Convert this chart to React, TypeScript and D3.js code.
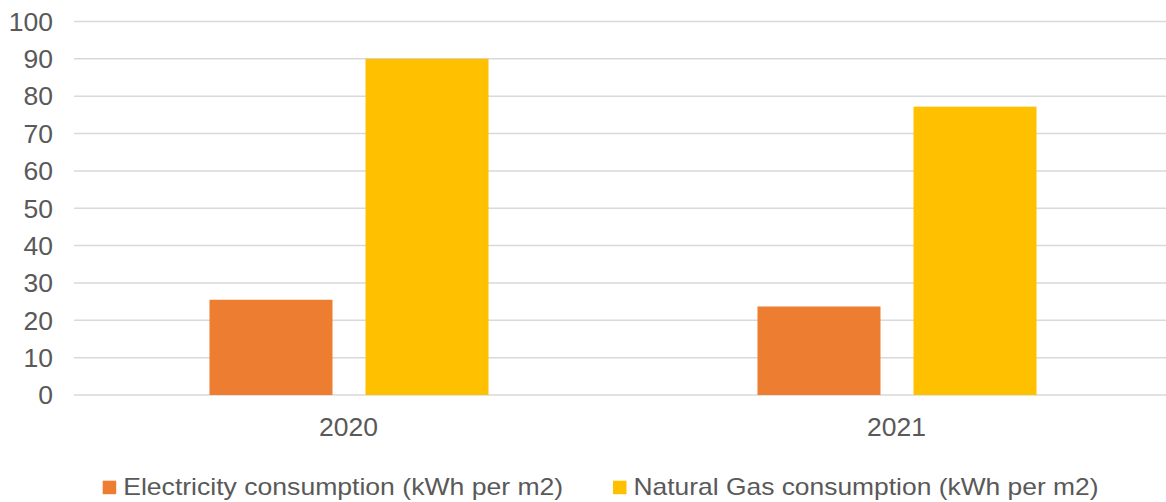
import * as d3 from 'd3';
import { useEffect, useRef } from 'react';

// Chart data
const years = ['2020', '2021'];
const electricity = [25.5, 23.7];
const naturalGas = [90, 77.2];
const yTicks = [0, 10, 20, 30, 40, 50, 60, 70, 80, 90, 100];
const seriesNames = [
  'Electricity consumption (kWh per m2)',
  'Natural Gas consumption (kWh per m2)',
];
const seriesColors = ['#ED7D31', '#FFC000'];

const App = () => {
  const svgRef = useRef<SVGSVGElement | null>(null);

  useEffect(() => {
    if (!svgRef.current) return;

    const width = 1166;
    const height = 502;
    const textColor = '#595959';
    const font = '"Liberation Sans", Arial, sans-serif';

    d3.select(svgRef.current).selectAll('*').remove();

    const svg = d3.select(svgRef.current)
      .attr('width', width)
      .attr('height', height)
      .style('display', 'block')
      .style('background', '#fff');

    // Scales
    const y = d3.scaleLinear().domain([0, 100]).range([395, 21.5]);

    const x0 = d3.scaleBand()
      .domain(years)
      .range([75, 1171])
      .padding(0);

    const x1 = d3.scaleBand()
      .domain(seriesNames)
      .range([0, x0.bandwidth()])
      .paddingInner(0.2115)
      .paddingOuter(0.862);

    // Gridlines
    svg.append('g')
      .selectAll('line')
      .data(yTicks)
      .join('line')
      .attr('x1', 74)
      .attr('x2', 1171)
      .attr('y1', d => y(d))
      .attr('y2', d => y(d))
      .attr('stroke', '#d9d9d9')
      .attr('stroke-width', 1.5);

    // Y tick labels
    svg.append('g')
      .selectAll('text')
      .data(yTicks)
      .join('text')
      .attr('x', 53)
      .attr('y', d => y(d))
      .attr('dy', '0.35em')
      .attr('text-anchor', 'end')
      .style('font-family', font)
      .style('font-size', '26.5px')
      .style('fill', textColor)
      .text(d => d);

    // Bars
    const rows = years.map((yr, i) => ({
      year: yr,
      values: [electricity[i], naturalGas[i]],
    }));

    const groups = svg.append('g')
      .selectAll('g')
      .data(rows)
      .join('g')
      .attr('transform', d => `translate(${x0(d.year)},0)`);

    groups.selectAll('rect')
      .data(d => d.values.map((v, j) => ({ name: seriesNames[j], value: v, color: seriesColors[j] })))
      .join('rect')
      .attr('x', d => x1(d.name) || 0)
      .attr('width', x1.bandwidth())
      .attr('y', d => y(d.value))
      .attr('height', d => y(0) - y(d.value))
      .attr('fill', d => d.color);

    // X category labels
    svg.append('g')
      .selectAll('text')
      .data(years)
      .join('text')
      .attr('x', d => (x0(d) || 0) + x0.bandwidth() / 2 - 0.5)
      .attr('y', 436)
      .attr('text-anchor', 'middle')
      .style('font-family', font)
      .style('font-size', '26.5px')
      .style('fill', textColor)
      .text(d => d);

    // Legend
    const legendX = [102.7, 613];
    const legendTextLen = [440, 465];
    const legend = svg.append('g')
      .selectAll('g')
      .data(seriesNames)
      .join('g')
      .attr('transform', (_, i) => `translate(${legendX[i]},0)`);

    legend.append('rect')
      .attr('x', 0)
      .attr('y', 480.7)
      .attr('width', 13.5)
      .attr('height', 13.5)
      .attr('fill', (_, i) => seriesColors[i]);

    legend.append('text')
      .attr('x', 20.5)
      .attr('y', 495)
      .attr('textLength', (_, i) => legendTextLen[i])
      .attr('lengthAdjust', 'spacingAndGlyphs')
      .style('font-family', font)
      .style('font-size', '24px')
      .style('fill', textColor)
      .text(d => d);
  }, []);

  return (
    <div style={{ position: 'absolute', left: 0, top: 0 }}>
      <svg ref={svgRef}></svg>
    </div>
  );
};

export default App;
